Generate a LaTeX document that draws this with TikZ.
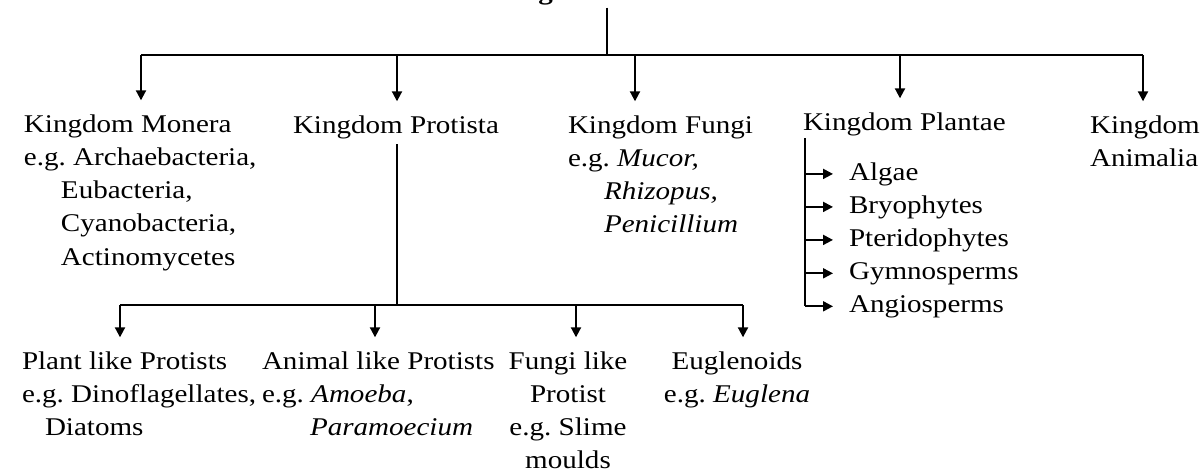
\documentclass[tikz,border=0pt]{standalone}
\usepackage{fontspec}
\setmainfont{Liberation Serif}[FakeStretch=1.14]
\usetikzlibrary{arrows.meta, positioning}

\tikzset{
  txt/.style={inner sep=0pt, font=\fontsize{12.75}{16.65}\selectfont\frenchspacing, align=left, anchor=base west},
  ctxt/.style={txt, align=center, anchor=base},
  arr/.style={-{Triangle[length=5pt,width=5pt]}, shorten >=6.5pt},
  sarr/.style={-{Triangle[length=5pt,width=5pt]}, shorten >=7.5pt},
}

\begin{document}
\begin{tikzpicture}[x=0.5pt, y=-0.5pt, line width=1pt]
    \useasboundingbox (0,0) rectangle (1204,472);

    % Title (cut off at the top edge)
    \node[ctxt, font=\fontsize{12.75}{16.65}\selectfont\bfseries] (title) at (607,-1) {Five Kingdom Classification};

    % Kingdoms (multi-line nodes sit on the baseline of their last line)
    \node[txt] (monera) at (23,265.2) {Kingdom Monera\\e.g. Archaebacteria,\\\hspace*{18.5pt}Eubacteria,\\\hspace*{18.5pt}Cyanobacteria,\\\hspace*{18.5pt}Actinomycetes};
    \node[txt] (protista) at (292,133) {Kingdom Protista};
    \node[txt] (fungi) at (567,232.9) {Kingdom Fungi\\e.g. \textit{Mucor,}\\\hspace*{18pt}\textit{Rhizopus,}\\\hspace*{18pt}\textit{Penicillium}};
    \node[txt] (plantae) at (802,130) {Kingdom Plantae};
    \node[txt] (animalia) at (1089,166.3) {Kingdom\\Animalia};

    % Plant groups
    \node[txt] (algae) at (848,180) {Algae};
    \node[txt] (bryo) at (848,213) {Bryophytes};
    \node[txt] (pterido) at (848,246) {Pteridophytes};
    \node[txt] (gymno) at (848,279) {Gymnosperms};
    \node[txt] (angio) at (848,312) {Angiosperms};

    % Protist groups
    \node[txt] (plantlike) at (21,435.6) {Plant like Protists\\e.g. Dinoflagellates,\\\hspace*{11.5pt}Diatoms};
    \node[txt] (animallike) at (261,435.6) {Animal like Protists\\e.g. \textit{Amoeba},\\\hspace*{24pt}\textit{Paramoecium}};
    \node[ctxt] (fungilike) at (568,468.9) {Fungi like\\Protist\\e.g. Slime\\moulds};
    \node[ctxt] (eugl) at (737,402.3) {Euglenoids\\e.g. \textit{Euglena}};

    % Branch points
    \coordinate (top) at (607,55);
    \coordinate (mon) at (141,55);
    \coordinate (pro) at (397,55);
    \coordinate (fun) at (635,55);
    \coordinate (pla) at (900,55);
    \coordinate (ani) at (1143,55);
    \coordinate (psplit) at (397,305);
    \coordinate (plk) at (120,305);
    \coordinate (alk) at (375,305);
    \coordinate (flk) at (576,305);
    \coordinate (elk) at (743,305);
    \coordinate (trunk) at (805,138);

    % Main tree
    \draw[shorten <=1pt] (title.south) -- (top);
    \draw (mon) -- (ani);
    \draw[arr] (mon) -- (mon |- monera.north);
    \draw[arr] (pro) -- (pro |- protista.north);
    \draw[arr] (fun) -- (fun |- fungi.north);
    \draw[arr] (pla) -- (pla |- plantae.north);
    \draw[arr] (ani) -- (ani |- animalia.north);

    % Protista branches
    \draw[shorten <=2.25pt] (pro |- protista.south) -- (psplit);
    \draw (plk) -- (elk);
    \draw[arr] (plk) -- (plk |- plantlike.north);
    \draw[arr] (alk) -- (alk |- animallike.north);
    \draw[arr] (flk) -- (flk |- fungilike.north);
    \draw[arr] (elk) -- (elk |- eugl.north);

    % Plantae list
    \draw (trunk) -- (trunk |- angio.west);
    \draw[sarr] (trunk |- algae.west) -- (algae.west);
    \draw[sarr] (trunk |- bryo.west) -- (bryo.west);
    \draw[sarr] (trunk |- pterido.west) -- (pterido.west);
    \draw[sarr] (trunk |- gymno.west) -- (gymno.west);
    \draw[sarr] (trunk |- angio.west) -- (angio.west);
\end{tikzpicture}
\end{document}
